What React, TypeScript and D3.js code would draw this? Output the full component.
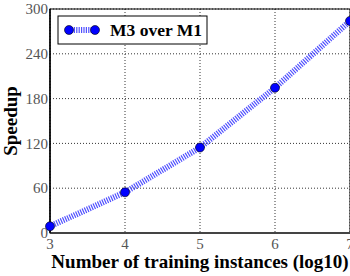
import React from "react";
import * as d3 from "d3";

const xValues = [3, 4, 5, 6, 7];
const speedup = [9, 54.5, 114.5, 194.5, 284];
const yTicks = [0, 60, 120, 180, 240, 300];
const seriesName = "M3 over M1";

const width = 350;
const height = 276;
const margin = { top: 9, left: 50, bottom: 43, right: 0 };
const iwidth = width - margin.left - margin.right;
const iheight = height - margin.top - margin.bottom;

const serif = "'Liberation Serif', 'DejaVu Serif', serif";

export default function App() {
    const x = d3.scaleLinear().domain([3, 7]).range([0, iwidth]);
    const y = d3.scaleLinear().domain([0, 300]).range([iheight, 0]);
    const line = d3.line<number>()
        .x((d, i) => x(xValues[i]))
        .y(d => y(d));

    return (
        <svg width={width} height={height} style={{ position: "absolute", left: 0, top: 0, background: "#fff" }}>
            <g transform={`translate(${margin.left},${margin.top})`}>
                {/* grid */}
                {xValues.map(v => (
                    <line key={"gx" + v} x1={x(v)} x2={x(v)} y1={0} y2={iheight}
                        stroke="#000" strokeWidth={0.8} strokeDasharray="1,2" />
                ))}
                {yTicks.map(v => (
                    <line key={"gy" + v} x1={0} x2={iwidth} y1={y(v)} y2={y(v)}
                        stroke="#000" strokeWidth={0.8} strokeDasharray="1,2" />
                ))}
                {/* frame */}
                <rect x={0} y={0} width={iwidth} height={iheight} fill="none" stroke="#000" strokeWidth={1} />
                <line x1={0} x2={iwidth} y1={iheight} y2={iheight} stroke="#444" strokeWidth={2} />
                <line x1={0} x2={0} y1={0} y2={iheight} stroke="#000" strokeWidth={1.5} />

                {/* y tick labels */}
                {yTicks.map(v => (
                    <text key={"ty" + v} x={-2} y={y(v)} dy="0.35em" textAnchor="end"
                        fontFamily={serif} fontSize={15} fill="#555">{v}</text>
                ))}
                {/* x tick labels */}
                {xValues.map(v => (
                    <text key={"tx" + v} x={x(v)} y={iheight + 16} textAnchor="middle"
                        fontFamily={serif} fontSize={15} fill="#555">{v}</text>
                ))}

                {/* series */}
                <path d={line(speedup) || ""} fill="none" stroke="#5050ff" strokeWidth={6}
                    strokeDasharray="1.2,1.2" />
                {speedup.map((v, i) => (
                    <circle key={"p" + i} cx={x(xValues[i])} cy={y(v)} r={4.5}
                        fill="#0000ff" stroke="#000" strokeWidth={0.6} />
                ))}

                {/* legend */}
                <rect x={8} y={7} width={149} height={28} fill="#fff" stroke="#000" strokeWidth={1} />
                <line x1={19} x2={45} y1={21} y2={21} stroke="#5050ff" strokeWidth={6} strokeDasharray="1.2,1.2" />
                <circle cx={19} cy={21} r={4.5} fill="#0000ff" stroke="#000" strokeWidth={0.6} />
                <circle cx={45} cy={21} r={4.5} fill="#0000ff" stroke="#000" strokeWidth={0.6} />
                <text x={60} y={21} dy="0.35em" fontFamily={serif} fontSize={17.5} fontWeight="bold">{seriesName}</text>
            </g>
            {/* axis titles */}
            <text x={margin.left + iwidth / 2 + 0} y={268} textAnchor="middle"
                fontFamily={serif} fontSize={19} fontWeight="bold">Number of training instances (log10)</text>
            <text transform={`translate(17,${121}) rotate(-90)`} textAnchor="middle"
                fontFamily={serif} fontSize={19} fontWeight="bold">Speedup</text>
        </svg>
    );
}
